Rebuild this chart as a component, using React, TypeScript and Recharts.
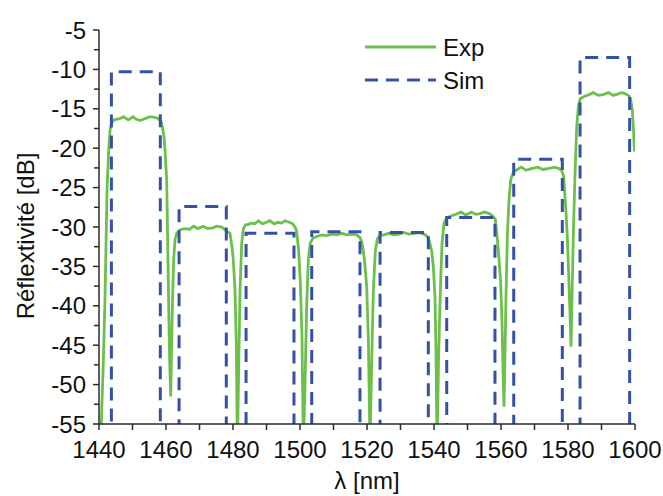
import React from 'react';
import { LineChart, Line, XAxis, YAxis } from 'recharts';

// Experimental reflectivity (wavelength nm, reflectivity dB)
const expWavelength = [
  1440.6, 1441.3, 1441.8, 1442.4, 1442.9, 1443.3, 1443.8, 1444.5, 1445.5, 1446.5, 1447.3, 1448.7, 1449.5, 1450.2, 1451, 1452.2, 1453.5, 1455.2, 1456.5, 1457.5, 1458.3, 1458.7, 1459.4, 1459.7, 1460.2, 1460.5, 1460.8, 1461.1, 1461.4, 1461.6, 1461.9, 1462.3, 1462.7, 1463.2, 1463.8,
  1464.5, 1466, 1467, 1468.2, 1469.5, 1471.1, 1472.5, 1474, 1475.1, 1476.6, 1477.5, 1478.3, 1479.1, 1479.7, 1480.1, 1480.6, 1481.0, 1481.3, 1481.7, 1482.1, 1482.6, 1483.1, 1483.8,
  1484.5, 1485.5, 1486.5, 1487.6, 1488.8, 1490, 1491, 1492.3, 1493.5, 1494.5, 1495.5, 1496.8, 1497.8, 1498.5, 1499, 1499.6, 1500.1, 1500.6, 1501.0, 1501.5, 1502.0, 1502.5, 1503.1, 1503.9,
  1505, 1506.5, 1508, 1509.5, 1511, 1512.5, 1514, 1515.5, 1517, 1518, 1518.6, 1519.2, 1519.9, 1520.4, 1520.9, 1521.4, 1521.9, 1522.5, 1523.1, 1523.8,
  1525, 1526.5, 1528, 1529.5, 1531, 1532.5, 1534, 1535.5, 1537, 1538, 1538.6, 1539.3, 1539.8, 1540.3, 1540.6, 1540.9, 1541.4, 1541.9, 1542.4, 1543.0, 1543.8,
  1545, 1546.5, 1548.1, 1549.5, 1551.1, 1552.5, 1553.8, 1555, 1556.5, 1557.5, 1558.3, 1558.9, 1559.4, 1559.9, 1560.3, 1560.6, 1560.9, 1561.2, 1561.5, 1561.9, 1562.4, 1562.9, 1563.7,
  1564.5, 1566, 1567.5, 1569, 1571, 1572.5, 1574, 1576, 1577.5, 1578.3, 1578.7, 1579.3, 1579.8, 1580.2, 1580.6, 1580.9, 1581.2, 1581.6, 1582.1, 1582.6, 1583.1, 1583.7,
  1585, 1586.3, 1587.6, 1589, 1590.5, 1592.1, 1593.5, 1595, 1596, 1597.2, 1598.3, 1598.7, 1599.2, 1599.6, 1599.8,
];
const expReflectivity = [
  -56, -47, -39, -25.3, -20.2, -17.7, -16.8, -16.4, -16.3, -16.2, -16.0, -16.4, -16.2, -16.0, -16.3, -16.5, -16.3, -16.0, -16.1, -16.2, -16.5, -16.8, -18.5, -20.2, -24, -31.6, -40, -47, -51.5, -47, -40, -34, -31.6, -30.8, -30.5,
  -30.3, -30.2, -30.3, -29.9, -30.2, -29.9, -30.2, -30.1, -29.9, -30.0, -30.3, -30.6, -30.8, -32.5, -34.2, -38, -45, -58, -48, -38, -32, -30.2, -29.7,
  -29.7, -29.5, -29.6, -29.2, -29.6, -29.4, -29.2, -29.6, -29.4, -29.5, -29.2, -29.4, -29.6, -30.0, -30.5, -33, -37, -44, -58, -50, -40, -34, -32, -31.4,
  -31.2, -31.0, -31.1, -30.9, -31.0, -30.8, -31.0, -30.9, -31.0, -31.4, -32.2, -34, -37.5, -44, -58, -47, -38, -33, -31.5, -31.1,
  -31.0, -30.8, -31.0, -30.9, -30.7, -30.9, -30.8, -30.7, -30.9, -31.2, -31.8, -33, -35, -39, -46, -58, -46, -38, -32, -29.5, -28.8,
  -28.6, -28.4, -28.1, -28.5, -28.1, -28.4, -28.3, -28.1, -28.3, -28.6, -29, -31.5, -34, -37, -42, -48, -52.8, -46, -38.5, -31, -26.5, -24, -23.0,
  -22.8, -22.4, -22.8, -22.6, -22.4, -22.7, -22.6, -22.4, -22.6, -23.0, -23.6, -27.4, -31.2, -36, -41, -45.2, -39, -30.8, -23.2, -17.3, -14.6, -13.7,
  -13.4, -13.2, -12.95, -13.3, -13.2, -12.95, -13.3, -13.1, -12.95, -13.1, -13.4, -13.8, -15.2, -18, -20.4,
];

// Simulated reflectivity: square bands (edges in nm, top level in dB)
const simLeftEdges = [1443.7, 1463.9, 1483.9, 1503.5, 1523.9, 1543.8, 1563.8, 1583.6];
const simRightEdges = [1458.3, 1478.0, 1498.2, 1517.9, 1538.3, 1558.2, 1578.3, 1598.4];
const simTops = [-10.3, -27.4, -30.8, -30.6, -30.7, -28.8, -21.4, -8.5];
const simFloor = -60;

const xTicks = [1440, 1450, 1460, 1470, 1480, 1490, 1500, 1510, 1520, 1530, 1540, 1550, 1560, 1570, 1580, 1590, 1600];
const xLabelTicks = [1440, 1460, 1480, 1500, 1520, 1540, 1560, 1580, 1600];
const yTicks = [-55, -52.5, -50, -47.5, -45, -42.5, -40, -37.5, -35, -32.5, -30, -27.5, -25, -22.5, -20, -17.5, -15, -12.5, -10, -7.5, -5];
const yLabelTicks = [-55, -50, -45, -40, -35, -30, -25, -20, -15, -10, -5];

const expData = expWavelength.map((x, i) => ({ x, y: expReflectivity[i] }));
const simData: { x: number; y: number }[] = [];
simLeftEdges.forEach((l, i) => {
  simData.push({ x: l, y: simFloor });
  simData.push({ x: l, y: simTops[i] });
  simData.push({ x: simRightEdges[i], y: simTops[i] });
  simData.push({ x: simRightEdges[i], y: simFloor });
});

const FONT = '"Liberation Sans", Arial, sans-serif';
const AXIS_COLOR = '#2b2b2b';
const GREEN = '#6cc04a';
const BLUE = '#3551a6';
const DASH = '13 8';

const XTick = (props: any) => {
  const { x, y, payload } = props;
  const labeled = xLabelTicks.includes(payload.value);
  return (
    <g>
      <line x1={x} y1={y} x2={x} y2={y + 6} stroke={AXIS_COLOR} strokeWidth={1.5} />
      {labeled && (
        <text x={x} y={y + 34} textAnchor="middle" fill="#111" fontSize={24} fontFamily={FONT}>
          {payload.value}
        </text>
      )}
    </g>
  );
};

const YTick = (props: any) => {
  const { x, y, payload } = props;
  const labeled = yLabelTicks.includes(payload.value);
  return (
    <g>
      <line x1={x} y1={y} x2={x - (labeled ? 6 : 5)} y2={y} stroke={AXIS_COLOR} strokeWidth={1.5} />
      {labeled && (
        <text x={x - 13} y={y} textAnchor="end" dominantBaseline="central" fill="#111" fontSize={24} fontFamily={FONT}>
          {payload.value}
        </text>
      )}
    </g>
  );
};

const YLabel = (props: any) => {
  const { viewBox } = props;
  const cx = viewBox.x + 25;
  const cy = viewBox.y + viewBox.height / 2 + 9;
  return (
    <text x={cx} y={cy} transform={`rotate(-90 ${cx} ${cy})`} textAnchor="middle" dominantBaseline="central" fill="#111" fontSize={24} fontFamily={FONT}>
      Réflextivité [dB]
    </text>
  );
};

const XLabel = (props: any) => {
  const { viewBox } = props;
  const cx = viewBox.x + viewBox.width / 2;
  return (
    <text x={cx} y={viewBox.y + 65} textAnchor="middle" fill="#111" fontSize={24} fontFamily={FONT}>
      λ [nm]
    </text>
  );
};

const legendItems = [
  { name: 'Exp', color: GREEN, dash: undefined as string | undefined },
  { name: 'Sim', color: BLUE, dash: DASH },
];

const LegendBox = () => (
  <svg width={160} height={70} style={{ position: 'absolute', left: 360, top: 30, display: 'block' }}>
    {legendItems.map((it, i) => (
      <g key={it.name}>
        <line x1={5} x2={76} y1={17 + i * 33} y2={17 + i * 33} stroke={it.color} strokeWidth={3} strokeDasharray={it.dash} />
        <text x={83} y={17 + i * 33} dominantBaseline="central" fill="#111" fontSize={24} fontFamily={FONT}>
          {it.name}
        </text>
      </g>
    ))}
  </svg>
);

export default function App() {
  return (
    <div style={{ position: 'absolute', left: 0, top: 0, width: 663, height: 496, background: '#fff' }}>
      <LineChart width={663} height={496} margin={{ top: 30, right: 28, bottom: 0, left: 0 }}>
        <XAxis
          type="number"
          dataKey="x"
          domain={[1440, 1600]}
          ticks={xTicks}
          interval={0}
          allowDataOverflow
          height={72}
          tickSize={0}
          tickMargin={0}
          tick={<XTick />}
          axisLine={{ stroke: AXIS_COLOR, strokeWidth: 1.5 }}
          tickLine={false}
          label={<XLabel />}
        />
        <YAxis
          type="number"
          dataKey="y"
          domain={[-55, -5]}
          ticks={yTicks}
          interval={0}
          allowDataOverflow
          width={99}
          tickSize={0}
          tickMargin={0}
          tick={<YTick />}
          axisLine={{ stroke: AXIS_COLOR, strokeWidth: 1.5 }}
          tickLine={false}
          label={<YLabel />}
        />
        <Line
          data={expData}
          dataKey="y"
          name="Exp"
          type="linear"
          stroke={GREEN}
          strokeWidth={2.8}
          dot={false}
          activeDot={false}
          isAnimationActive={false}
        />
        <Line
          data={simData}
          dataKey="y"
          name="Sim"
          type="linear"
          stroke={BLUE}
          strokeWidth={3}
          strokeDasharray={DASH}
          dot={false}
          activeDot={false}
          isAnimationActive={false}
        />
      </LineChart>
      <LegendBox />
    </div>
  );
}
